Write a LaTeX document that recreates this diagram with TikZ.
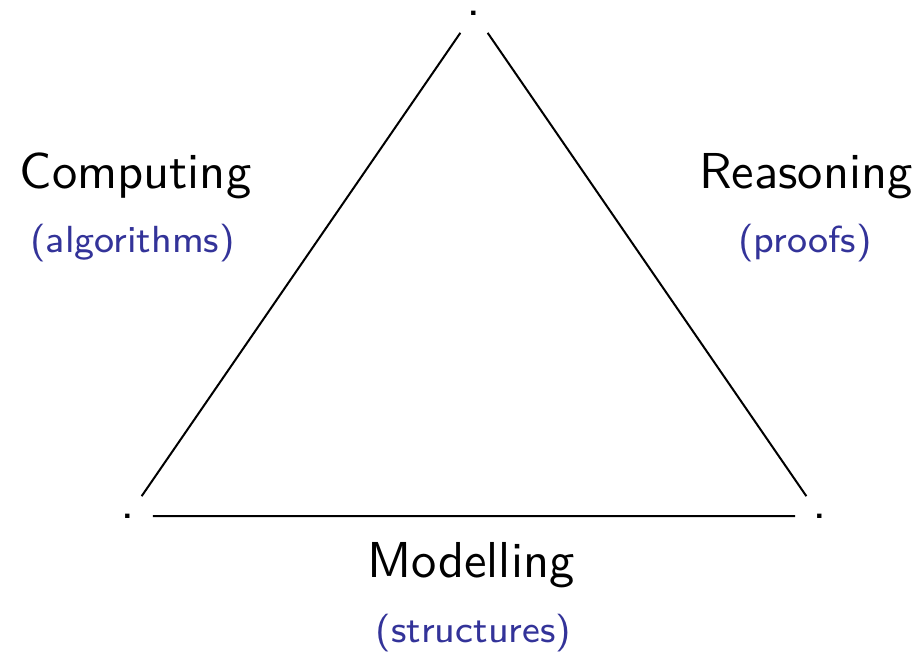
\documentclass[tikz,border=0pt]{standalone}
\usepackage{xcolor}
\definecolor{struct}{RGB}{51,51,153}
\begin{document}
\begin{tikzpicture}[x=0.2pt,y=-0.2pt,
  vert/.style={inner sep=0.333em,font=\sffamily\fontsize{10.5}{12}\selectfont},
  big/.style={anchor=base,inner sep=0pt,font=\sffamily\fontsize{10.1}{12}\selectfont},
  small/.style={anchor=base,inner sep=0pt,text=struct,font=\sffamily\fontsize{7.55}{9}\selectfont}]
\useasboundingbox (0,0) rectangle (918,653);
\node[vert] (t) at (474,13) {.};
\node[vert] (l) at (128,516) {.};
\node[vert] (r) at (820,516) {.};
\draw (t) -- (l) -- (r) -- (t);
\node[big] (comp) at (135.5,188) {Computing};
\node[small] (alg) at (132.5,252) {(algorithms)};
\node[big] (reas) at (806,188) {Reasoning};
\node[small] (proof) at (805,252) {(proofs)};
\node[big] (mod) at (471,577) {Modelling};
\node[small] (struc) at (473.5,642) {(structures)};
\end{tikzpicture}
\end{document}
